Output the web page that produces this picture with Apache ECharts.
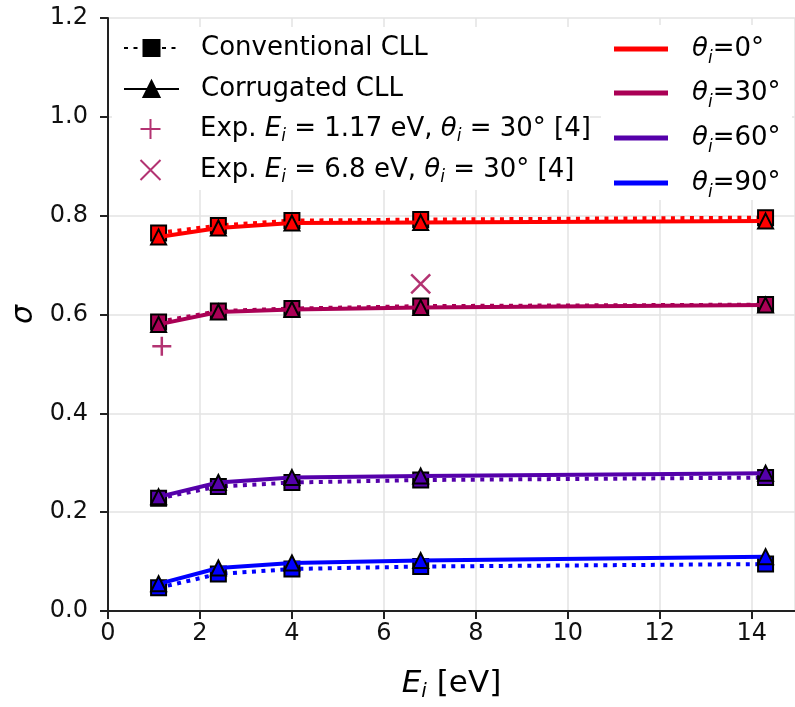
<!DOCTYPE html>
<html>
<head>
<meta charset="utf-8">
<script src="https://cdn.jsdelivr.net/npm/echarts@6/dist/echarts.min.js"></script>
<style>
  html, body { margin: 0; padding: 0; background: #fff; }
  #chart { width: 795px; height: 707px; }
</style>
</head>
<body>
<div id="chart"></div>
<script>
// Incident energies E_i [eV]
const energies = [1.1, 2.4, 4.0, 6.8, 14.3];

// Sticking coefficient sigma, conventional CLL (dotted, squares)
const conv0  = [0.765, 0.780, 0.790, 0.792, 0.796];
const conv30 = [0.585, 0.607, 0.612, 0.617, 0.620];
const conv60 = [0.228, 0.252, 0.260, 0.265, 0.270];
const conv90 = [0.047, 0.075, 0.085, 0.090, 0.095];

// Sticking coefficient sigma, corrugated CLL (solid, triangles)
const corr0  = [0.757, 0.775, 0.785, 0.786, 0.789];
const corr30 = [0.580, 0.605, 0.610, 0.614, 0.619];
const corr60 = [0.231, 0.260, 0.270, 0.273, 0.279];
const corr90 = [0.055, 0.087, 0.097, 0.102, 0.110];

// Experimental points, theta_i = 30 deg [4]
const expLow  = [1.17, 0.536];
const expHigh = [6.8, 0.662];

const angles = [0, 30, 60, 90];
const angleColors = ['#ff0000', '#aa0055', '#5500aa', '#0000ff'];
const convSets = [conv0, conv30, conv60, conv90];
const corrSets = [corr0, corr30, corr60, corr90];

const xTicks = [0, 2, 4, 6, 8, 10, 12, 14];
const yTicks = [0, 0.2, 0.4, 0.6, 0.8, 1.0, 1.2];

const FONT = 'DejaVu Sans';
const DOTS = [4, 5.5];
const EXP_COLOR = '#a0004f';

function pairs(vals) { return energies.map((e, k) => [e, vals[k]]); }

const series = [];
// conventional CLL curves
angles.forEach((a, k) => {
  series.push({
    type: 'line', name: 'conv' + a, data: pairs(convSets[k]),
    symbol: 'rect', symbolSize: 15,
    lineStyle: { color: angleColors[k], width: 4, type: DOTS },
    itemStyle: { color: angleColors[k], borderColor: '#000', borderWidth: 2 },
    emphasis: { disabled: true }, z: 2
  });
});
// corrugated CLL curves
angles.forEach((a, k) => {
  series.push({
    type: 'line', name: 'corr' + a, data: pairs(corrSets[k]),
    symbol: 'triangle', symbolSize: 15,
    lineStyle: { color: angleColors[k], width: 4 },
    itemStyle: { color: angleColors[k], borderColor: '#000', borderWidth: 2 },
    emphasis: { disabled: true }, z: 3
  });
});
// experimental data
const PLUS = 'path://M0,10L20,10M10,0L10,20';
const CROSS = 'path://M0,0L20,20M20,0L0,20';
series.push({
  type: 'scatter', name: 'expLow', data: [expLow],
  symbol: PLUS, symbolSize: 19,
  itemStyle: { color: 'none', borderColor: EXP_COLOR, borderWidth: 2.5 },
  emphasis: { disabled: true }, z: 4
});
series.push({
  type: 'scatter', name: 'expHigh', data: [expHigh],
  symbol: CROSS, symbolSize: 19,
  itemStyle: { color: 'none', borderColor: EXP_COLOR, borderWidth: 2.5 },
  emphasis: { disabled: true }, z: 4
});
// legend-only entries
series.push({
  type: 'line', name: 'Conventional CLL', data: [],
  symbol: 'rect', symbolSize: 15,
  lineStyle: { color: '#000', width: 3.5, type: DOTS },
  itemStyle: { color: '#000', borderColor: '#000', borderWidth: 2 }
});
series.push({
  type: 'line', name: 'Corrugated CLL', data: [],
  symbol: 'triangle', symbolSize: 15,
  lineStyle: { color: '#000', width: 3.5 },
  itemStyle: { color: '#000', borderColor: '#000', borderWidth: 2 }
});
angles.forEach((a, k) => {
  series.push({
    type: 'line', name: 'theta' + a, data: [], symbol: 'none',
    lineStyle: { color: angleColors[k], width: 5 },
    itemStyle: { color: angleColors[k] }
  });
});

const legendRich = {
  g: { width: 17, fontFamily: FONT, fontSize: 26, lineHeight: 32 },
  h: { width: 19, fontFamily: FONT, fontSize: 26, lineHeight: 36 },
  n: { fontFamily: FONT, fontSize: 26, lineHeight: 32, color: '#000' },
  i: { fontFamily: FONT, fontSize: 26, fontStyle: 'italic', lineHeight: 32, color: '#000' },
  s: { fontFamily: FONT, fontSize: 17, fontStyle: 'italic', lineHeight: 13, verticalAlign: 'bottom', color: '#000' },
  n2: { fontFamily: FONT, fontSize: 26, lineHeight: 36, color: '#000' },
  i2: { fontFamily: FONT, fontSize: 26, fontStyle: 'italic', lineHeight: 36, color: '#000' },
  s2: { fontFamily: FONT, fontSize: 17, fontStyle: 'italic', lineHeight: 15, verticalAlign: 'bottom', color: '#000' }
};

// Left legend: model / experiment entries, one row each.
// Marker-only icons are 20px wide inside a 55px slot, hence the extra left offset.
const leftEntries = [
  { name: 'Conventional CLL', text: '{g| }{n|Conventional CLL}', top: 35, left: 123 },
  { name: 'Corrugated CLL', text: '{g| }{n|Corrugated CLL}', top: 76, left: 123 },
  { name: 'expLow', text: '{g| }{n|Exp. }{i|E}{s|i}{n| = 1.17 eV, }{i|θ}{s|i}{n| = 30° [4]}', top: 116, left: 138 },
  { name: 'expHigh', text: '{g| }{n|Exp. }{i|E}{s|i}{n| = 6.8 eV, }{i|θ}{s|i}{n| = 30° [4]}', top: 157, left: 138 }
];
// Right legend: incidence angle colours
const rightTops = [36, 80, 125, 170];

const legends = [];
leftEntries.forEach(e => {
  legends.push({
    orient: 'vertical', left: e.left, top: e.top, padding: 0,
    itemWidth: 55, itemHeight: 20, selectedMode: false,
    data: [e.name], formatter: () => e.text,
    itemStyle: { borderWidth: 2 },
    textStyle: { fontFamily: FONT, fontSize: 26, color: '#000', rich: legendRich }
  });
});
angles.forEach((a, k) => {
  legends.push({
    orient: 'vertical', left: 614, top: rightTops[k], padding: 0,
    itemWidth: 54, itemHeight: 5, selectedMode: false,
    data: [{ name: 'theta' + a, icon: 'rect' }],
    formatter: () => '{h| }{i2|θ}{s2|i}{n2|=' + a + '°}',
    itemStyle: { borderWidth: 0 },
    textStyle: { fontFamily: FONT, fontSize: 26, color: '#000', rich: legendRich }
  });
});

const chart = echarts.init(document.getElementById('chart'), null, { renderer: 'canvas' });
chart.setOption({
  animation: false,
  backgroundColor: '#fff',
  grid: { left: 108, right: 0, top: 18, bottom: 93, containLabel: false },
  // white legend panels over the grid lines
  graphic: [
    { type: 'rect', z: 1, silent: true, shape: { x: 112, y: 27, width: 478, height: 163 }, style: { fill: '#fff' } },
    { type: 'rect', z: 1, silent: true, shape: { x: 601, y: 25, width: 191, height: 175 }, style: { fill: '#fff' } }
  ],
  xAxis: {
    type: 'value', min: 0, max: 14.94, interval: 2,
    name: '{i|E}{s|i}{n| [eV]}', nameLocation: 'middle', nameGap: 55,
    nameTextStyle: {
      rich: {
        n: { fontFamily: FONT, fontSize: 31, lineHeight: 36, color: '#000' },
        i: { fontFamily: FONT, fontSize: 31, fontStyle: 'italic', lineHeight: 36, color: '#000' },
        s: { fontFamily: FONT, fontSize: 20, fontStyle: 'italic', lineHeight: 14, verticalAlign: 'bottom', color: '#000' }
      }
    },
    axisLine: { lineStyle: { color: '#222', width: 2 } },
    axisTick: { length: 8, lineStyle: { color: '#222', width: 2 } },
    axisLabel: {
      fontFamily: FONT, fontSize: 24, color: '#111', margin: 11, showMaxLabel: false,
      formatter: v => (xTicks.includes(v) ? String(v) : '')
    },
    splitLine: { show: true, lineStyle: { color: '#e3e3e3', width: 1.5 } }
  },
  yAxis: {
    type: 'value', min: 0, max: 1.2, interval: 0.2,
    name: 'σ', nameLocation: 'middle', nameGap: 68,
    nameTextStyle: { fontFamily: FONT, fontSize: 30, fontStyle: 'italic', color: '#000' },
    axisLine: { show: true, lineStyle: { color: '#222', width: 2 } },
    axisTick: { show: true, length: 8, lineStyle: { color: '#222', width: 2 } },
    axisLabel: {
      fontFamily: FONT, fontSize: 24, color: '#111', margin: 20,
      formatter: v => (yTicks.some(t => Math.abs(t - v) < 1e-9) ? v.toFixed(1) : '')
    },
    splitLine: { show: true, lineStyle: { color: '#e3e3e3', width: 1.5 } }
  },
  legend: legends,
  series: series
});
</script>
</body>
</html>
